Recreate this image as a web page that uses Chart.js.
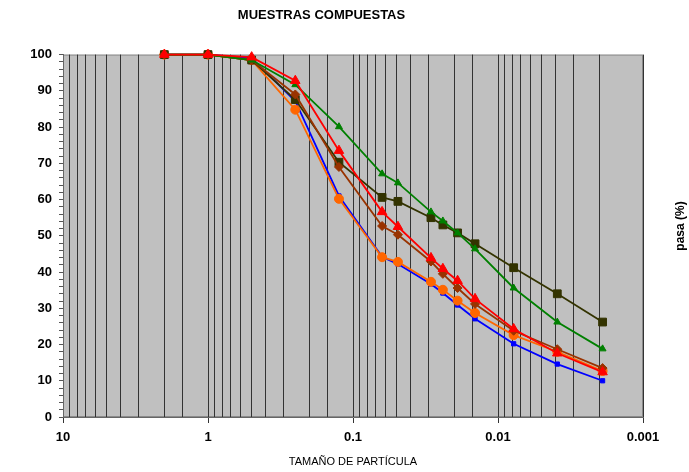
<!DOCTYPE html>
<html>
<head>
<meta charset="utf-8">
<script src="https://cdn.jsdelivr.net/npm/chart.js@4"></script>
<style>
  html, body { margin: 0; padding: 0; background: #fff; }
  #wrap { width: 689px; height: 472px; }
</style>
</head>
<body>
<div id="wrap"><canvas id="granulo"></canvas></div>
<script>
  // tamaños de partícula (mm)
  const sizes = [2, 1, 0.5, 0.25, 0.125, 0.063, 0.049, 0.029, 0.024, 0.019, 0.0144, 0.0078, 0.0039, 0.0019];

  // % que pasa, una lista por muestra
  const red    = [100, 100, 99.3, 92.8, 73.5, 56.6, 52.5, 43.9, 40.9, 37.6, 32.6, 24.3, 17.6, 12.4];
  const green  = [100, 100, 98.5, 91.7, 80.1, 67.1, 64.6, 56.6, 54.1, 50.8, 46.4, 35.6, 26.2, 18.8];
  const brown  = [100, 100, 98.5, 89.0, 69.0, 52.7, 50.3, 42.9, 39.5, 35.6, 31.2, 23.8, 18.7, 13.5];
  const olive  = [100, 100, 98.5, 87.6, 70.3, 60.6, 59.5, 55.0, 53.0, 50.8, 47.8, 41.2, 34.0, 26.2];
  const orange = [100, 100, 98.5, 84.8, 60.2, 44.1, 42.8, 37.3, 35.1, 32.1, 28.7, 22.6, 18.0, 12.7];
  const blue   = [100, 100, 99.0, 87.2, 61.0, 44.2, 42.2, 36.7, 34.2, 30.9, 27.1, 20.2, 14.6, 10.0];

  const xTicks = [10, 1, 0.1, 0.01, 0.001];

  function pts(vals) {
    return vals.map((v, i) => ({ x: sizes[i], y: v }));
  }

  function isDecade(v) {
    const l = Math.log10(v);
    return Math.abs(l - Math.round(l)) < 1e-6;
  }

  // fondo gris del area de trazado + titulo del eje a la derecha
  const plotBg = {
    id: 'plotBg',
    beforeDraw(chart) {
      const { ctx, chartArea: a } = chart;
      ctx.save();
      ctx.fillStyle = '#c0c0c0';
      ctx.fillRect(a.left, a.top, a.right - a.left, a.bottom - a.top);
      ctx.strokeStyle = '#8a8a8a';
      ctx.lineWidth = 1;
      ctx.strokeRect(a.left + 0.5, a.top + 0.5, a.right - a.left - 1, a.bottom - a.top - 1);
      ctx.restore();
    },
    afterDraw(chart) {
      const ctx = chart.ctx;
      ctx.save();
      ctx.translate(681, 226);
      ctx.rotate(-Math.PI / 2);
      ctx.font = 'bold 12px "Liberation Sans", Arial, sans-serif';
      ctx.fillStyle = '#000';
      ctx.textAlign = 'center';
      ctx.textBaseline = 'middle';
      ctx.fillText('pasa (%)', 0, 0);
      ctx.restore();
    }
  };

  const line = (data, color, style, r) => ({
    data: pts(data),
    borderColor: color,
    backgroundColor: color,
    pointStyle: style,
    pointRadius: r,
    pointHoverRadius: r,
    borderWidth: 1.8,
    pointBorderWidth: 1,
    tension: 0,
    clip: false
  });

  Chart.defaults.font.family = '"Liberation Sans", Arial, sans-serif';
  Chart.defaults.color = '#000';

  new Chart(document.getElementById('granulo'), {
    type: 'line',
    data: {
      datasets: [
        line(red, '#ff0000', 'triangle', 5.5),
        line(green, '#008000', 'triangle', 4),
        line(brown, '#993300', 'rectRot', 4.5),
        line(olive, '#333300', 'rect', 5.5),
        line(orange, '#ff6600', 'circle', 4.5),
        line(blue, '#0000ff', 'rect', 3)
      ]
    },
    options: {
      responsive: true,
      maintainAspectRatio: false,
      animation: false,
      layout: { padding: { left: 0, right: 46, top: 0, bottom: 0 } },
      plugins: {
        legend: { display: false },
        tooltip: { enabled: false },
        title: {
          display: true,
          text: 'MUESTRAS COMPUESTAS',
          font: { size: 13, weight: 'bold' },
          padding: { top: 8, bottom: 31 }
        }
      },
      scales: {
        x: {
          type: 'logarithmic',
          reverse: true,
          min: 0.001,
          max: 10,
          afterFit: s => { s.height = 55; },
          afterBuildTicks: s => {
            // conservar solo las divisiones 1..9 de cada decada
            s.ticks = s.ticks.filter(t => t.value >= 0.001 && t.value <= 10);
          },
          grid: {
            color: '#333',
            lineWidth: 1,
            tickLength: 6,
            tickColor: c => (c.tick && isDecade(c.tick.value)) ? '#333' : 'rgba(0,0,0,0)'
          },
          border: { display: true, color: '#666' },
          ticks: {
            autoSkip: false,
            maxRotation: 0,
            padding: 7,
            font: { size: 13, weight: 'bold' },
            callback: v => xTicks.includes(v) || isDecade(v) ? String(+v.toPrecision(1)) : ''
          },
          title: {
            display: true,
            text: 'TAMAÑO DE PARTÍCULA',
            font: { size: 11 },
            padding: { top: 8, bottom: 3 }
          }
        },
        y: {
          min: 0,
          max: 100,
          afterFit: s => { s.width = 63; },
          grid: {
            drawOnChartArea: false,
            tickLength: 4,
            color: '#555'
          },
          border: { display: true, color: '#666' },
          ticks: {
            stepSize: 2,
            autoSkip: false,
            padding: 7,
            font: { size: 13, weight: 'bold' },
            callback: v => v % 10 === 0 ? v : ''
          }
        }
      }
    },
    plugins: [plotBg]
  });
</script>
</body>
</html>
